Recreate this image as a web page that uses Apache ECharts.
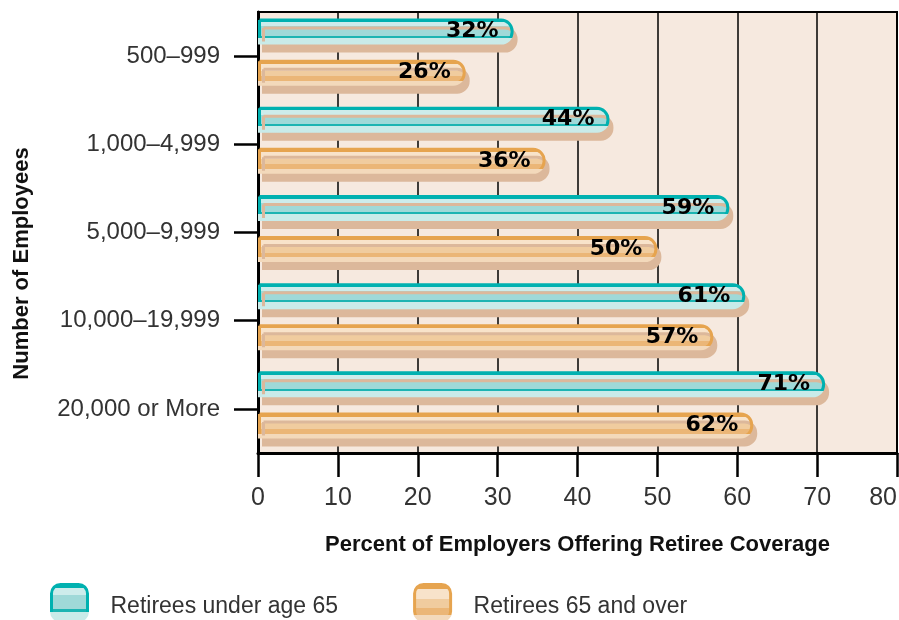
<!DOCTYPE html>
<html>
<head>
<meta charset="utf-8">
<script src="https://cdn.jsdelivr.net/npm/echarts@6/dist/echarts.min.js"></script>
<style>
  html, body { margin: 0; padding: 0; background: #ffffff; }
  #chart { width: 899px; height: 620px; }
</style>
</head>
<body>
<div id="chart"></div>
<script>
const categories = ['500–999', '1,000–4,999', '5,000–9,999', '10,000–19,999', '20,000 or More'];
const under65 = [32, 44, 59, 61, 71];
const over65 = [26, 36, 50, 57, 62];
const xTicks = [0, 80, 10];
const seriesNames = ['Retirees under age 65', 'Retirees 65 and over'];

function stripes(list) {
  const stops = [];
  let prev = 0;
  list.forEach(function (s) {
    stops.push({ offset: prev, color: s[1] });
    stops.push({ offset: s[0], color: s[1] });
    prev = s[0];
  });
  return { type: 'linear', x: 0, y: 0, x2: 0, y2: 1, colorStops: stops };
}

const tealFill = stripes([[0.14, '#00b1b0'], [0.3, '#cdeceb'], [0.66, '#9fd9d8'], [0.74, '#1cb4b2'], [1, '#c9ebe9']]);
const tealBorder = stripes([[0.74, '#00b1b0'], [1, '#c9ebe9']]);
const orangeFill = stripes([[0.16, '#e6a44f'], [0.42, '#f8e3ca'], [0.64, '#f0cc9f'], [0.82, '#ebb677'], [1, '#f3d9bb']]);
const orangeBorder = stripes([[0.82, '#e6a44f'], [1, '#f3d9bb']]);

const chart = echarts.init(document.getElementById('chart'), null, { renderer: 'canvas' });

const labelStyle = {
  show: true,
  position: 'insideRight',
  distance: 15,
  formatter: '{c}%',
  color: '#000',
  fontFamily: 'DejaVu Sans',
  fontWeight: 'bold',
  fontSize: 22
};

function barItem(fill, border) {
  return {
    color: fill,
    borderColor: border,
    borderWidth: 3,
    borderRadius: [0, 11, 11, 0],
    shadowColor: '#dcb89b',
    shadowBlur: 0,
    shadowOffsetX: 4,
    shadowOffsetY: 8
  };
}

chart.setOption({
  animation: false,
  grid: [
    {
      left: 258, right: 2, top: 12, bottom: 167,
      containLabel: false,
      outerBoundsMode: 'none',
      show: true,
      backgroundColor: '#f6e9df',
      borderColor: '#000',
      borderWidth: 2
    },
    {
      left: 258, right: 2, top: 8, bottom: 171,
      containLabel: false,
      outerBoundsMode: 'none',
      show: false
    }
  ],
  legend: {
    data: seriesNames,
    left: 45,
    top: 578,
    icon: 'roundRect',
    itemWidth: 36,
    itemHeight: 36,
    itemGap: 75,
    itemStyle: { shadowColor: 'rgba(0,0,0,0)', shadowOffsetX: 0, shadowOffsetY: 0, borderWidth: 3 },
    formatter: function (n) { return '{t|' + n + '}'; },
    textStyle: {
      fontFamily: 'Liberation Sans', fontSize: 23, color: '#333',
      rich: { t: { fontFamily: 'Liberation Sans', fontSize: 23, color: '#333', padding: [8, 0, 0, 18] } }
    }
  },
  xAxis: [
    {
      type: 'value',
      gridIndex: 0,
      min: xTicks[0],
      max: xTicks[1],
      interval: xTicks[2],
      name: 'Percent of Employers Offering Retiree Coverage',
      nameLocation: 'middle',
      nameGap: 81,
      nameTextStyle: { fontFamily: 'Liberation Sans', fontWeight: 'bold', fontSize: 22, color: '#111' },
      axisLine: { show: true, lineStyle: { color: '#000', width: 3 } },
      axisTick: { show: true, length: 24, lineStyle: { color: '#000', width: 2.5 } },
      axisLabel: { margin: 33, fontFamily: 'Liberation Sans', fontSize: 25, color: '#333', alignMaxLabel: 'right' },
      splitLine: { show: true, lineStyle: { color: '#000', width: 1.5 } }
    },
    {
      type: 'value',
      gridIndex: 1,
      min: xTicks[0],
      max: xTicks[1],
      interval: xTicks[2],
      show: false
    }
  ],
  yAxis: [
    {
      type: 'category',
      gridIndex: 0,
      data: categories,
      inverse: true,
      name: 'Number of Employees',
      nameLocation: 'middle',
      nameGap: 225,
      nameRotate: 90,
      nameTextStyle: { fontFamily: 'Liberation Sans', fontWeight: 'bold', fontSize: 22, color: '#111', padding: [0, 62, 0, 0] },
      axisLine: { show: true, lineStyle: { color: '#000', width: 3 } },
      axisTick: { show: true, alignWithLabel: true, length: 24, lineStyle: { color: '#000', width: 2.5 } },
      axisLabel: { margin: 38, fontFamily: 'Liberation Sans', fontSize: 24, color: '#333' },
      splitLine: { show: false }
    },
    {
      type: 'category',
      gridIndex: 1,
      data: categories,
      inverse: true,
      show: false
    }
  ],
  series: [
    {
      name: seriesNames[0],
      type: 'bar',
      xAxisIndex: 1,
      yAxisIndex: 1,
      data: under65,
      barWidth: 26,
      barGap: '58%',
      itemStyle: barItem(tealFill, tealBorder),
      label: labelStyle
    },
    {
      name: seriesNames[1],
      type: 'bar',
      xAxisIndex: 1,
      yAxisIndex: 1,
      data: over65,
      barWidth: 26,
      barGap: '58%',
      itemStyle: barItem(orangeFill, orangeBorder),
      label: labelStyle
    }
  ]
});
</script>
</body>
</html>
